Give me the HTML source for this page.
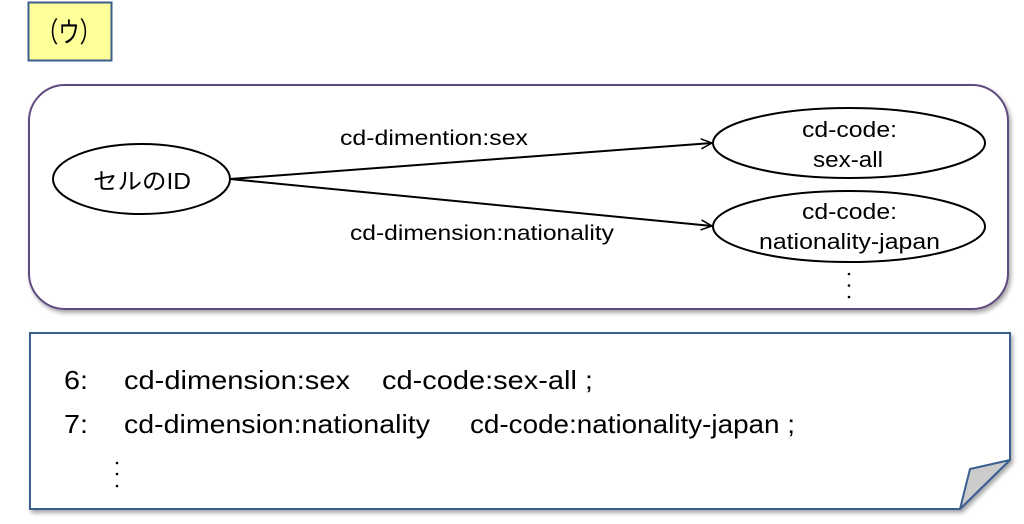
<!DOCTYPE html>
<html><head><meta charset="utf-8"><style>
html,body{margin:0;padding:0;background:#fff;width:1024px;height:524px;overflow:hidden}
svg text{font-family:"Liberation Sans","Noto Sans CJK JP",sans-serif;fill:#000}
</style></head><body>
<svg width="1024" height="524" viewBox="0 0 1024 524" xmlns="http://www.w3.org/2000/svg">
<defs>
<filter id="sh" x="-5%" y="-5%" width="110%" height="115%">
<feDropShadow dx="2" dy="3" stdDeviation="2" flood-color="#000" flood-opacity="0.35"/>
</filter>
<marker id="ar" markerWidth="14" markerHeight="14" refX="12" refY="6" orient="auto" markerUnits="userSpaceOnUse">
<path d="M1,1 L12,6 L1,11" fill="none" stroke="#000" stroke-width="1.5"/>
</marker>
</defs>
<rect x="28.5" y="2.5" width="83" height="58" fill="#ffff99" stroke="#3a5f8f" stroke-width="2"/>
<text x="37" y="42" font-size="28" textLength="64" lengthAdjust="spacingAndGlyphs">（ウ）</text>

<rect x="29" y="85" width="979" height="224" rx="36" ry="36" fill="#fff" stroke="#5f4b7f" stroke-width="2" filter="url(#sh)"/>

<ellipse cx="141.5" cy="179" rx="88.5" ry="35" fill="#fff" stroke="#000" stroke-width="2"/>
<text x="93" y="189" font-size="23" textLength="98" lengthAdjust="spacingAndGlyphs">セルのID</text>

<line x1="230" y1="179" x2="712" y2="143" stroke="#000" stroke-width="2" marker-end="url(#ar)"/>
<line x1="230" y1="179" x2="712" y2="226" stroke="#000" stroke-width="2" marker-end="url(#ar)"/>

<text x="340" y="145" font-size="21" textLength="188" lengthAdjust="spacingAndGlyphs">cd-dimention:sex</text>
<text x="350" y="240" font-size="21" textLength="264" lengthAdjust="spacingAndGlyphs">cd-dimension:nationality</text>

<ellipse cx="849" cy="143" rx="136" ry="35" fill="#fff" stroke="#000" stroke-width="2"/>
<text x="802" y="137" font-size="22" textLength="95" lengthAdjust="spacingAndGlyphs">cd-code:</text>
<text x="813" y="167" font-size="22" textLength="70" lengthAdjust="spacingAndGlyphs">sex-all</text>

<ellipse cx="849" cy="226.5" rx="136" ry="35.5" fill="#fff" stroke="#000" stroke-width="2"/>
<text x="802" y="219" font-size="22" textLength="95" lengthAdjust="spacingAndGlyphs">cd-code:</text>
<text x="759" y="249" font-size="22" textLength="181" lengthAdjust="spacingAndGlyphs">nationality-japan</text>

<circle cx="849" cy="274" r="1.3" fill="#000"/>
<circle cx="849" cy="285.5" r="1.3" fill="#000"/>
<circle cx="849" cy="297" r="1.3" fill="#000"/>

<path d="M30,333 L1010,333 L1010,460 L960,509 L30,509 Z" fill="#fff" stroke="#3a5f8f" stroke-width="2" filter="url(#sh)"/>
<path d="M1010,460 L970,469 L960,509 Z" fill="#cccccc" stroke="#3a5f8f" stroke-width="2" stroke-linejoin="round"/>

<text x="64" y="389" font-size="26" textLength="24" lengthAdjust="spacingAndGlyphs">6:</text>
<text x="124" y="389" font-size="26" textLength="226" lengthAdjust="spacingAndGlyphs">cd-dimension:sex</text>
<text x="382" y="389" font-size="26" textLength="211" lengthAdjust="spacingAndGlyphs">cd-code:sex-all ;</text>
<text x="64" y="433" font-size="26" textLength="24" lengthAdjust="spacingAndGlyphs">7:</text>
<text x="124" y="433" font-size="26" textLength="306" lengthAdjust="spacingAndGlyphs">cd-dimension:nationality</text>
<text x="470" y="433" font-size="26" textLength="325" lengthAdjust="spacingAndGlyphs">cd-code:nationality-japan ;</text>
<circle cx="117" cy="463" r="1.3" fill="#000"/>
<circle cx="117" cy="474" r="1.3" fill="#000"/>
<circle cx="117" cy="486" r="1.3" fill="#000"/>
</svg>
</body></html>
